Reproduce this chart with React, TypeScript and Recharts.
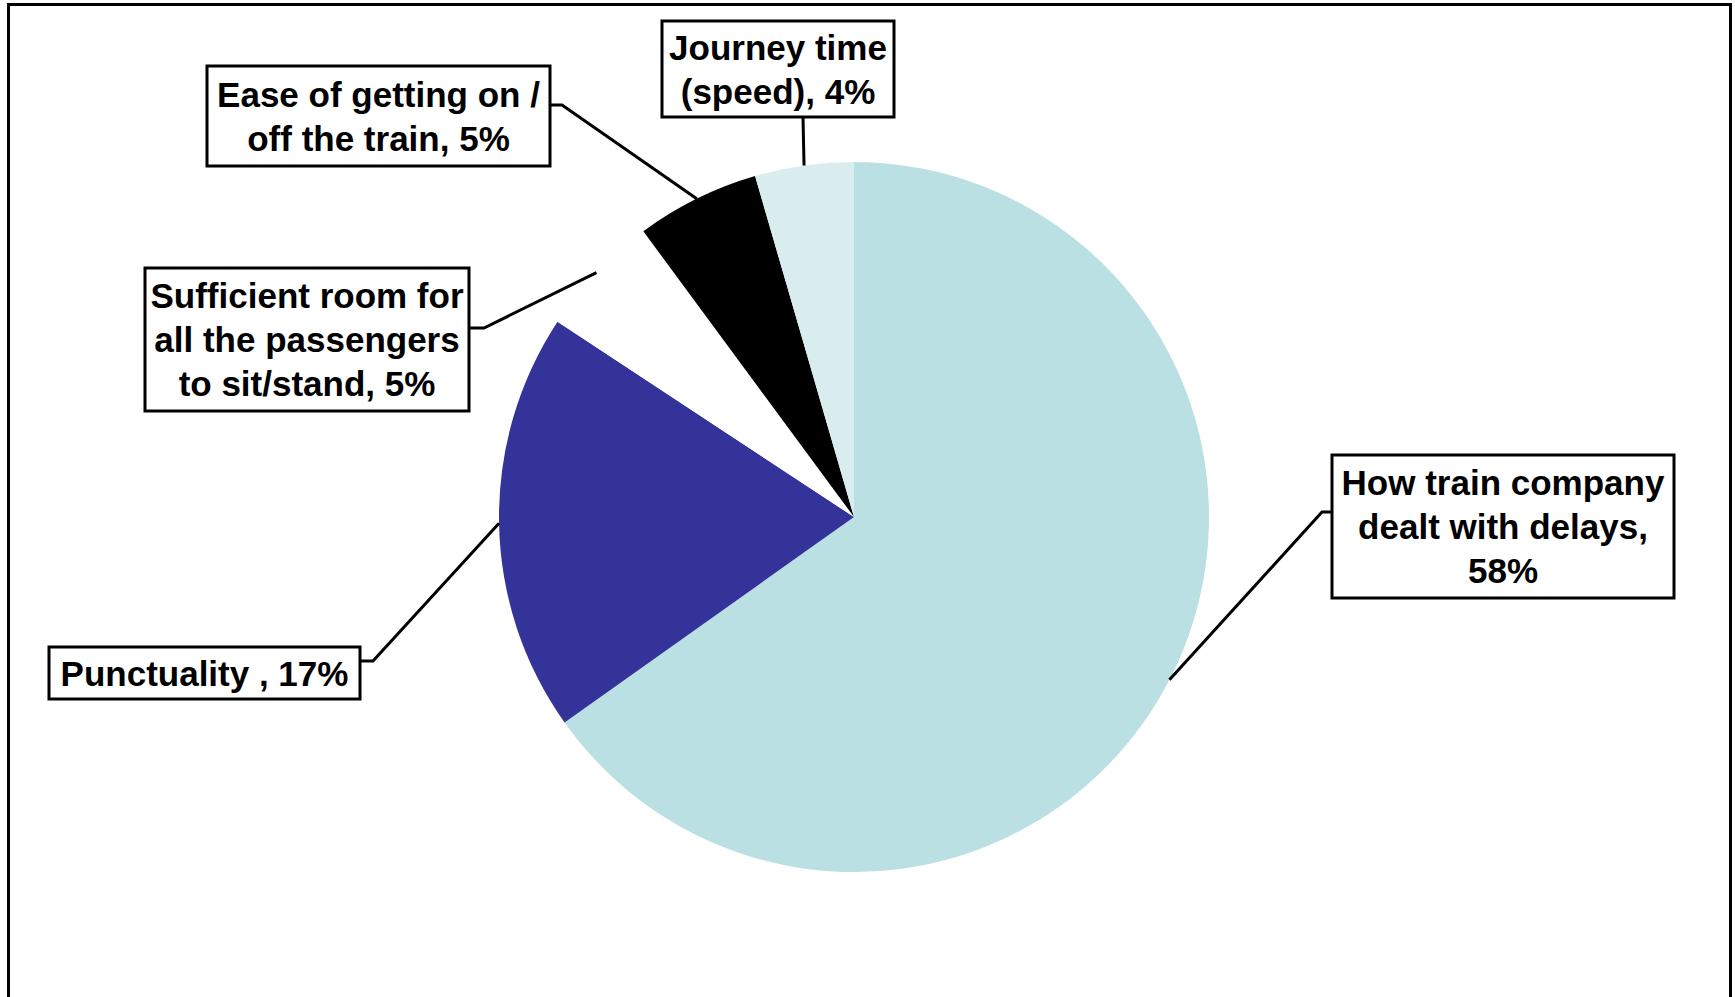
import { Cell, Pie, PieChart } from "recharts";

const categories = [
  "How train company\ndealt with delays",
  "Punctuality ",
  "Sufficient room for\nall the passengers\nto sit/stand",
  "Ease of getting on /\noff the train",
  "Journey time\n(speed)",
];
const shares = [58, 17, 5, 5, 4];
const colors = ["#BAE0E3", "#333399", "#FFFFFF", "#000000", "#D9EDEF"];

const data = categories.map((name, i) => ({ name, value: shares[i] }));

// label boxes: position/size in chart pixels, where the leader joins the box
const boxes = [
  { x: 1332, y: 455, w: 342, h: 143, sep: ",\n", ax: 1332, ay: 512, kx: 1322 },
  { x: 49, y: 647, w: 311, h: 52, sep: ", ", ax: 360, ay: 661, kx: 373 },
  { x: 145, y: 268, w: 324, h: 143, sep: ", ", ax: 469, ay: 328, kx: 484 },
  { x: 207, y: 66, w: 343, h: 100, sep: ", ", ax: 550, ay: 105, kx: 562 },
  { x: 662, y: 21, w: 232, h: 96, sep: ", ", ax: 803, ay: 117, kx: 803 },
];

const RAD = Math.PI / 180;
const LINE_H = 44;

function renderLabel(props: any) {
  const { cx, cy, midAngle, outerRadius, index, name, value } = props;
  const b = boxes[index];
  const px = cx + outerRadius * Math.cos(-midAngle * RAD);
  const py = cy + outerRadius * Math.sin(-midAngle * RAD);
  const lines = `${name}${b.sep}${value}%`.split("\n");
  const firstY = b.y + (b.h - (lines.length - 1) * LINE_H) / 2;
  return (
    <g key={`lbl-${index}`}>
      <polyline
        points={`${px},${py} ${b.kx},${b.ay} ${b.ax},${b.ay}`}
        fill="none"
        stroke="#000"
        strokeWidth={3}
      />
      <rect x={b.x} y={b.y} width={b.w} height={b.h} fill="#fff" stroke="#000" strokeWidth={3} />
      <text
        x={b.x + b.w / 2}
        textAnchor="middle"
        fontFamily="'Liberation Sans', Arial, sans-serif"
        fontWeight="bold"
        fontSize={35}
        fill="#000"
      >
        {lines.map((ln, i) => (
          <tspan key={i} x={b.x + b.w / 2} y={firstY + i * LINE_H} dominantBaseline="central">
            {ln}
          </tspan>
        ))}
      </text>
    </g>
  );
}

export default function App() {
  return (
    <div style={{ position: "absolute", left: 0, top: 0, width: 1735, height: 997, overflow: "hidden", background: "#fff" }}>
      <div
        style={{
          position: "absolute",
          left: 7,
          top: 3,
          width: 1719,
          height: 1100,
          border: "3px solid #000",
        }}
      />
      <div style={{ position: "absolute", left: 0, top: 0 }}>
        <PieChart width={1735} height={997} margin={{ top: 0, right: 0, bottom: 0, left: 0 }}>
          <Pie
            data={data}
            dataKey="value"
            nameKey="name"
            cx={854}
            cy={517}
            outerRadius={355}
            startAngle={90}
            endAngle={-270}
            stroke="none"
            label={renderLabel}
            labelLine={false}
            isAnimationActive={false}
          >
            {data.map((d, i) => (
              <Cell key={d.name} fill={colors[i]} />
            ))}
          </Pie>
        </PieChart>
      </div>
    </div>
  );
}
